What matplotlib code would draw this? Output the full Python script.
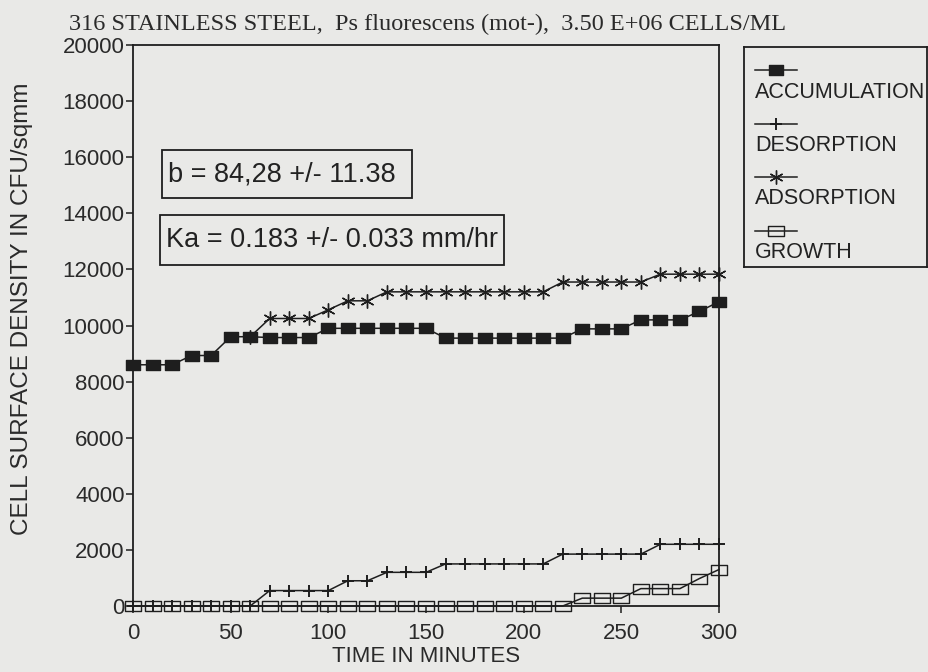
"""Cell surface density versus time for Ps fluorescens on 316 stainless steel."""

import numpy
from matplotlib import pyplot
from matplotlib.path import Path
from matplotlib.patches import Rectangle

# Sampling times (minutes).
minutes = numpy.arange(0, 301, 10)

# Cell surface densities (CFU/sqmm).
accumulation = [8600, 8600, 8600, 8930, 8930, 9600, 9600, 9570, 9570, 9570,
                9900, 9900, 9900, 9900, 9900, 9900, 9550, 9550, 9550, 9550,
                9550, 9550, 9550, 9880, 9880, 9880, 10200, 10200, 10200,
                10500, 10850]
desorption = [0, 0, 0, 0, 0, 0, 0, 550, 550, 550,
              550, 900, 900, 1200, 1200, 1200, 1500, 1500, 1500, 1500,
              1500, 1500, 1850, 1850, 1850, 1850, 1850, 2200, 2200,
              2200, 2200]
adsorption = [numpy.nan] * 6 + [9600, 10250, 10250, 10250,
                                10560, 10880, 10880, 11200, 11200, 11200,
                                11200, 11200, 11200, 11200, 11200, 11200,
                                11550, 11550, 11550, 11550, 11550, 11830,
                                11830, 11830, 11830]
growth = [0, 0, 0, 0, 0, 0, 0, 0, 0, 0,
          0, 0, 0, 0, 0, 0, 0, 0, 0, 0,
          0, 0, 0, 280, 280, 280, 620, 620, 620, 980, 1300]

title = '316 STAINLESS STEEL,  Ps fluorescens (mot-),  3.50 E+06 CELLS/ML'
fit_b = 'b = 84,28 +/- 11.38'
fit_ka = 'Ka = 0.183 +/- 0.033 mm/hr'

paper = '#e9e9e7'
ink = '#1e1e1e'

# Rectangular markers, wider than tall.
rect = Path([(-0.8, -0.6), (0.8, -0.6), (0.8, 0.6), (-0.8, 0.6),
             (-0.8, -0.6)], closed=True)
flat_rect = Path([(-0.8, -0.48), (0.8, -0.48), (0.8, 0.48), (-0.8, 0.48),
                  (-0.8, -0.48)], closed=True)

styles = {
    'ACCUMULATION': dict(marker=rect, markersize=10, markerfacecolor=ink,
                         markeredgecolor=ink),
    'DESORPTION': dict(marker='+', markersize=8, markeredgewidth=1.4,
                       markeredgecolor=ink),
    'ADSORPTION': dict(marker=(6, 2, 0), markersize=10, markeredgewidth=1.0,
                       markeredgecolor=ink),
    'GROWTH': dict(marker=flat_rect, markersize=11.5, markerfacecolor='none',
                   markeredgecolor=ink, markeredgewidth=1.0),
}
series = {
    'ACCUMULATION': accumulation,
    'DESORPTION': desorption,
    'ADSORPTION': adsorption,
    'GROWTH': growth,
}

pyplot.rc('font', family=['Liberation Sans', 'DejaVu Sans'], size=16)

fig = pyplot.figure(figsize=(9.29, 6.72), dpi=100, facecolor=paper)
ax = fig.add_axes([133 / 929, 1 - 606 / 672, 586 / 929, 561 / 672])
ax.set_facecolor(paper)

for name in ['GROWTH', 'DESORPTION', 'ADSORPTION', 'ACCUMULATION']:
    ax.plot(minutes, series[name], color=ink, linewidth=1.1, clip_on=False,
            **styles[name])

ax.set_xlim(0, 300)
ax.set_ylim(0, 20000)
ax.set_xticks(numpy.arange(0, 301, 50))
ax.set_yticks(numpy.arange(0, 20001, 2000))
ax.tick_params(direction='out', length=5, width=1.1, color=ink,
               labelcolor='#2a2a2a')
ax.tick_params(axis='y', pad=1)
ax.tick_params(axis='x', pad=7)
for spine in ax.spines.values():
    spine.set_linewidth(1.3)
    spine.set_color(ink)

ax.set_xlabel('TIME IN MINUTES', color='#2a2a2a', va='center')
ax.xaxis.set_label_coords(0.5, -0.09)
ax.set_ylabel('CELL SURFACE DENSITY IN CFU/sqmm', color='#2a2a2a',
              size=17.5, va='center')
ax.yaxis.set_label_coords(-0.19, 0.53)

fig.text(0.46, 0.964, title, ha='center', va='center', color='#2a2a2a',
         family='Liberation Serif', size=17.5)

# Fit results in framed boxes.
for (x0, x1, y0, y1), text in [((0.0495, 0.476, 0.727, 0.813), fit_b),
                               ((0.046, 0.633, 0.608, 0.697), fit_ka)]:
    ax.add_patch(Rectangle((x0, y0), x1 - x0, y1 - y0, transform=ax.transAxes,
                           facecolor='none', edgecolor=ink, linewidth=1.3))
    ax.text(x0 + 0.011, (y0 + y1) / 2, text, transform=ax.transAxes,
            ha='left', va='center', size=19.5, color='#222222')

# Legend: sample line above each label.
leg = fig.add_axes([744 / 929, 1 - 267 / 672, 183 / 929, 220 / 672])
leg.set_facecolor(paper)
leg.set_xlim(0, 183)
leg.set_ylim(220, 0)
leg.set_xticks([])
leg.set_yticks([])
for spine in leg.spines.values():
    spine.set_linewidth(1.3)
    spine.set_color(ink)
for i, name in enumerate(series):
    y = 23 + 53.5 * i
    leg.plot([11, 32, 53], [y, y, y], color=ink, linewidth=1.1,
             markevery=[1], **styles[name])
    leg.text(11, y + 22, name, ha='left', va='center', size=15.5,
             color='#222222')

fig.savefig('out.png', dpi=100, facecolor=paper)
